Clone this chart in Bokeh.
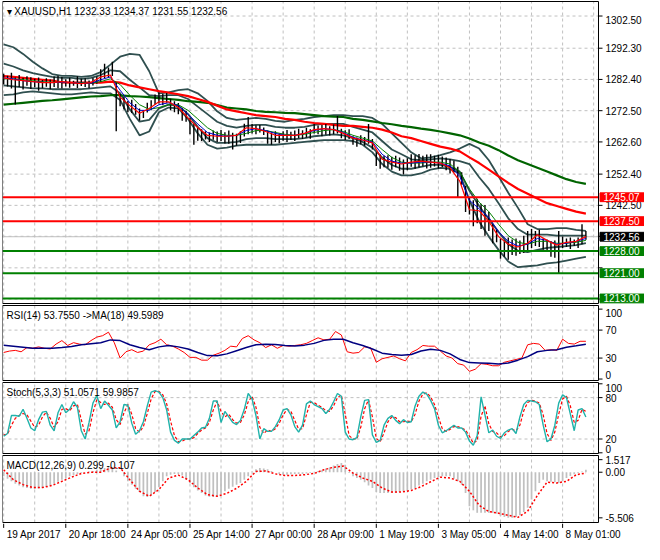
import numpy as np
from bokeh.plotting import figure
from bokeh.layouts import column
from bokeh.models import Range1d
from bokeh.core.properties import value
from bokeh.embed import file_html
from bokeh.resources import INLINE

# ---------------- data (XAUUSD H1) ----------------
# price bars, one entry every 2 bars
bar_hi = [1284.2, 1283.6, 1284.5, 1283.0, 1283.8, 1282.9, 1283.4,
          1283.1, 1282.6, 1283.0, 1282.2, 1282.8, 1282.4, 1283.3, 1283.6,
          1283.2, 1282.5, 1282.9, 1282.0, 1283.4, 1282.6, 1282.8, 1282.1, 1282.9, 1283.3,
          1285.6, 1287.4, 1286.2, 1288.0,
          1281.5,
          1277.8, 1277.0,
          1275.6, 1276.0, 1274.6,
          1273.2, 1272.6,
          1275.0, 1275.8,
          1277.6, 1278.3, 1277.9, 1278.1,
          1276.3, 1275.5, 1274.9,
          1273.3, 1272.5,
          1270.2, 1268.4, 1267.0,
          1266.6, 1266.0, 1265.6, 1266.2,
          1265.9, 1266.4, 1265.7,
          1266.2, 1265.5, 1265.2, 1266.0,
          1268.4, 1270.5,
          1268.3, 1267.9, 1268.0, 1267.2,
          1266.2, 1265.6, 1266.0, 1265.3,
          1266.0, 1266.4, 1265.8, 1266.2,
          1266.8, 1266.3, 1267.1, 1266.6,
          1268.3, 1267.8,
          1268.0, 1268.3, 1267.6, 1268.1, 1270.8,
          1266.8, 1266.3, 1266.6,
          1264.4, 1264.0, 1264.7, 1264.2,
          1268.3, 1263.5,
          1259.3, 1258.6, 1258.2,
          1258.4, 1257.9, 1258.2,
          1257.7, 1257.0, 1257.4,
          1258.7, 1258.4, 1258.8, 1258.2, 1258.6,
          1258.7, 1258.2, 1258.5, 1258.0,
          1257.7, 1257.2, 1256.6,
          1254.7, 1253.0,
          1248.7, 1245.0,
          1244.1, 1244.6, 1243.0,
          1242.6, 1240.5,
          1236.5, 1234.8,
          1232.0, 1231.4, 1232.3, 1231.7,
          1232.0, 1231.4, 1232.9, 1234.4,
          1235.0, 1234.4, 1234.8,
          1232.0, 1231.7,
          1231.1, 1231.4, 1234.4,
          1232.6, 1232.0, 1232.3, 1231.7, 1232.3,
          1236.5, 1234.4]
bar_lo = [1280.8, 1280.2, 1279.5, 1274.5, 1280.0, 1279.2, 1280.4,
          1279.4, 1279.9, 1278.8, 1279.6, 1280.1, 1279.3, 1280.0, 1279.6,
          1279.5, 1280.2, 1279.8, 1280.4, 1279.7, 1280.3, 1280.0, 1279.6, 1280.5, 1281.0,
          1281.6, 1282.8, 1283.0, 1283.5,
          1266.0,
          1273.9, 1272.9,
          1272.0, 1271.8, 1271.2,
          1269.3, 1270.2,
          1271.9, 1272.6,
          1274.4, 1274.8, 1274.2, 1275.0,
          1272.6, 1272.0, 1271.4,
          1269.3, 1269.0,
          1265.0, 1261.7, 1263.0,
          1262.9, 1263.4, 1262.6, 1263.3,
          1262.6, 1262.9, 1262.1,
          1262.0, 1260.2, 1261.4, 1262.3,
          1264.3, 1265.0,
          1265.3, 1265.0, 1265.6, 1264.8,
          1262.0, 1261.7, 1262.6, 1262.2,
          1263.0, 1262.6, 1263.2, 1262.9,
          1263.8, 1263.5, 1264.0, 1263.6,
          1265.3, 1265.0,
          1264.4, 1264.9, 1264.6, 1265.0, 1265.3,
          1263.8, 1263.2, 1263.5,
          1261.7, 1261.1, 1261.9, 1261.4,
          1262.0, 1260.2,
          1255.0, 1254.1, 1254.6,
          1254.4, 1253.8, 1254.6,
          1253.5, 1252.3, 1253.6,
          1254.7, 1254.1, 1254.5, 1254.8, 1254.2,
          1254.4, 1254.8, 1254.2, 1254.6,
          1253.6, 1252.6, 1252.9,
          1245.0, 1249.0,
          1240.4, 1239.6,
          1235.9, 1236.8, 1235.0,
          1232.9, 1234.4,
          1230.5, 1230.8,
          1225.6, 1226.2, 1225.3, 1226.8,
          1226.5, 1227.1, 1227.4, 1228.0,
          1229.0, 1229.6, 1229.3,
          1228.4, 1227.8,
          1226.2, 1225.9, 1221.1,
          1229.0, 1229.3, 1228.7, 1229.6, 1229.0,
          1230.2, 1231.6]

# indicator lines, one entry every 5 bars
ma_red = [1283.5, 1283.2, 1282.9, 1282.6, 1282.3, 1282.0, 1281.5, 1281.4, 1281.4, 1281.4,
          1281.4, 1281.7, 1281.4, 1280.5, 1279.9, 1279.3, 1278.7, 1278.2, 1277.7, 1277.1,
          1276.2, 1275.3, 1274.1, 1272.9, 1272.3, 1271.7, 1271.1, 1270.8, 1270.5, 1269.9,
          1269.6, 1269.0, 1268.6, 1268.3, 1268.0, 1267.7, 1267.7, 1267.4, 1267.1, 1266.5,
          1265.6, 1264.4, 1263.8, 1262.9, 1262.0, 1261.1, 1260.5, 1259.6, 1257.7, 1255.9,
          1253.8, 1251.7, 1249.6, 1247.7, 1246.2, 1244.7, 1243.2, 1242.3, 1241.4, 1240.5, 1239.9]
ma_green = [1274.4, 1274.7, 1275.0, 1275.3, 1275.6, 1275.8, 1276.1, 1276.4, 1276.7, 1277.0,
            1277.1, 1277.4, 1277.4, 1277.1, 1277.0, 1276.8, 1276.5, 1276.2, 1275.9, 1275.5,
            1275.3, 1275.0, 1274.3, 1273.5, 1273.2, 1272.9, 1272.4, 1272.1, 1272.0, 1271.8,
            1271.7, 1271.4, 1271.1, 1270.8, 1270.6, 1270.5, 1269.9, 1269.6, 1269.1, 1268.6,
            1268.2, 1267.7, 1267.3, 1266.8, 1266.4, 1265.9, 1265.3, 1264.7, 1263.7, 1262.4,
            1261.4, 1260.0, 1258.3, 1256.8, 1255.6, 1254.4, 1253.2, 1252.0, 1250.8, 1249.9, 1249.3]
fast_red = [1282.9, 1282.3, 1282.0, 1281.7, 1281.4, 1281.4, 1281.7, 1281.4, 1281.1, 1281.4,
            1283.2, 1283.8, 1276.8, 1274.1, 1271.7, 1273.2, 1275.3, 1275.3, 1273.5, 1270.2,
            1267.1, 1264.7, 1264.4, 1264.4, 1264.7, 1267.1, 1266.8, 1265.9, 1264.7, 1264.7,
            1264.7, 1265.3, 1266.5, 1266.8, 1266.5, 1265.3, 1263.8, 1263.2, 1262.3, 1257.1,
            1256.2, 1255.6, 1256.2, 1256.5, 1256.2, 1255.9, 1254.4, 1250.2, 1241.1, 1240.8,
            1237.4, 1232.6, 1230.2, 1229.3, 1230.5, 1233.2, 1231.4, 1229.9, 1230.8, 1231.1, 1232.6]
fast_blue = [1282.9, 1282.6, 1282.0, 1281.7, 1281.5, 1281.4, 1281.5, 1281.4, 1281.2, 1281.2,
             1282.3, 1283.2, 1279.0, 1275.0, 1272.6, 1272.6, 1274.4, 1275.0, 1274.1, 1271.4,
             1268.3, 1265.6, 1264.7, 1264.4, 1264.7, 1266.2, 1266.8, 1266.2, 1265.3, 1264.7,
             1264.7, 1265.3, 1266.2, 1266.8, 1266.5, 1265.6, 1264.1, 1263.2, 1262.6, 1258.7,
             1256.5, 1255.9, 1255.9, 1256.2, 1256.2, 1255.9, 1255.0, 1251.7, 1244.1, 1241.4,
             1238.7, 1234.1, 1231.1, 1229.6, 1230.2, 1232.0, 1231.4, 1230.2, 1230.5, 1231.1, 1232.0]
fast_green = [1282.6, 1282.6, 1282.3, 1282.0, 1281.7, 1281.5, 1281.5, 1281.4, 1281.4, 1281.2,
              1281.7, 1282.6, 1280.8, 1277.4, 1274.4, 1272.9, 1273.5, 1274.4, 1274.4, 1272.6,
              1269.9, 1267.1, 1265.3, 1264.7, 1264.7, 1265.3, 1266.2, 1266.2, 1265.6, 1265.0,
              1264.7, 1265.0, 1265.6, 1266.2, 1266.5, 1265.9, 1264.7, 1263.8, 1262.9, 1260.2,
              1257.7, 1256.2, 1255.9, 1255.9, 1256.2, 1256.2, 1255.6, 1253.2, 1247.7, 1243.5,
              1240.5, 1236.5, 1232.9, 1230.8, 1230.2, 1231.1, 1231.1, 1230.5, 1230.5, 1230.8, 1231.4]
bb_outer_up = [1293.5, 1292.6, 1290.5, 1288.0, 1285.9, 1284.1, 1283.5, 1283.5, 1283.2, 1283.5,
               1284.7, 1287.1, 1289.6, 1290.5, 1290.2, 1285.0, 1278.0, 1278.3, 1279.0, 1279.3,
               1278.0, 1275.6, 1272.3, 1270.2, 1269.6, 1269.9, 1270.2, 1269.9, 1269.3, 1269.0,
               1269.6, 1269.9, 1270.5, 1270.8, 1271.1, 1271.1, 1270.8, 1270.8, 1270.2, 1268.3,
               1265.3, 1262.3, 1259.3, 1257.4, 1257.7, 1258.4, 1259.3, 1260.5, 1262.0, 1260.5,
               1256.8, 1251.7, 1246.5, 1241.7, 1236.5, 1235.0, 1235.0, 1235.3, 1235.3, 1234.7, 1234.4]
bb_inner_up = [1287.4, 1286.5, 1285.3, 1284.4, 1283.8, 1283.2, 1282.9, 1282.9, 1282.6, 1282.9,
               1283.8, 1285.3, 1285.0, 1282.3, 1279.9, 1277.4, 1277.1, 1277.4, 1277.4, 1276.2,
               1273.8, 1271.4, 1269.0, 1267.7, 1267.1, 1267.7, 1268.0, 1268.0, 1267.4, 1267.1,
               1267.1, 1267.4, 1268.0, 1268.3, 1268.3, 1268.3, 1267.4, 1266.5, 1265.6, 1262.9,
               1260.2, 1258.7, 1257.1, 1256.8, 1257.1, 1257.4, 1257.1, 1256.5, 1255.6, 1251.4,
               1247.7, 1243.2, 1238.4, 1235.0, 1233.2, 1233.2, 1233.2, 1232.9, 1232.9, 1232.9, 1232.9]
bb_inner_lo = [1280.5, 1280.2, 1279.9, 1279.6, 1279.6, 1279.3, 1279.3, 1279.3, 1279.3, 1279.6,
               1279.9, 1280.2, 1278.0, 1272.9, 1269.0, 1269.6, 1273.2, 1274.4, 1274.1, 1271.4,
               1267.4, 1263.8, 1262.3, 1262.3, 1262.6, 1263.5, 1263.8, 1263.8, 1263.5, 1263.5,
               1263.5, 1263.8, 1264.4, 1264.7, 1265.0, 1264.7, 1263.8, 1262.6, 1260.8, 1257.7,
               1255.3, 1254.1, 1254.1, 1254.7, 1255.3, 1255.3, 1254.7, 1253.2, 1247.1, 1242.3,
               1238.1, 1234.1, 1230.2, 1228.1, 1227.7, 1228.4, 1229.0, 1229.3, 1229.6, 1229.9, 1230.5]
bb_outer_lo = [1277.4, 1277.7, 1278.3, 1278.6, 1278.3, 1278.0, 1277.7, 1277.7, 1278.0, 1278.3,
               1278.0, 1278.0, 1275.9, 1269.9, 1264.7, 1265.9, 1272.0, 1273.5, 1273.2, 1269.9,
               1265.3, 1261.7, 1260.5, 1260.8, 1261.4, 1261.7, 1261.7, 1261.7, 1261.7, 1262.0,
               1262.3, 1262.6, 1262.9, 1263.2, 1263.2, 1263.2, 1262.9, 1261.7, 1259.3, 1255.6,
               1253.2, 1252.0, 1252.0, 1252.6, 1253.8, 1254.4, 1254.1, 1252.6, 1244.1, 1237.4,
               1232.6, 1228.4, 1224.7, 1222.9, 1223.2, 1223.5, 1224.1, 1224.4, 1225.0, 1225.6, 1226.2]

levels = [1245.07, 1237.50, 1228.00, 1221.00, 1213.00]
level_colors = ["#FF0000", "#FF0000", "#008000", "#008000", "#008000"]
last_close = 1232.56
price_ticks = [1302.5, 1292.3, 1282.4, 1272.5, 1262.6, 1252.4, 1242.5, 1232.7, 1222.7, 1212.8]
price_labels = ["1302.50", "1292.30", "1282.40", "1272.50", "1262.60", "1252.40", "1242.50"]

# RSI(14), one entry every 3 bars; its MA(18) every 5 bars
rsi = [38, 40, 41, 39, 45, 44, 46, 44, 43, 50, 55, 48, 52, 50, 49, 55, 60, 62, 67, 52,
       30, 39, 42, 38, 40, 49, 52, 57, 49, 47, 43, 38, 31, 31, 27, 27, 34, 37, 41, 47,
       46, 58, 62, 56, 52, 45, 49, 44, 48, 47, 48, 49, 51, 55, 59, 56, 57, 68, 63, 39,
       37, 38, 46, 45, 24, 29, 31, 33, 29, 26, 38, 42, 48, 47, 47, 40, 33, 30, 22, 20,
       11, 14, 22, 21, 19, 19, 24, 26, 28, 30, 49, 51, 50, 41, 42, 41, 57, 51, 50, 54, 54]
rsi_ma = [48.5, 47, 45.5, 44, 44, 44, 45, 46.5, 49, 50.5, 52, 56, 55, 49, 45, 42, 46, 48, 46, 43,
          38, 33.5, 33.2, 36, 40.5, 45, 49, 49.7, 49.5, 48, 47.3, 48.5, 51, 55.3, 57, 57, 52, 48, 43, 37,
          35.2, 34.2, 35, 40, 42.6, 41, 36, 28, 23.5, 23, 22.5, 21.5, 23, 27, 32, 39, 41, 42, 45.5, 47.5, 49.6]

# Stochastic(5,3,3), one entry every 2 bars
stoch_main = [24, 28, 54, 54, 53, 63, 50, 36, 32, 48, 59, 60, 40, 32, 58, 70, 58, 63, 74, 66,
              32, 20, 44, 72, 83, 64, 75, 69, 62, 36, 45, 70, 69, 43, 27, 32, 45, 68, 88, 90,
              88, 80, 62, 30, 18, 14, 20, 20, 20, 25, 30, 36, 37, 50, 75, 75, 44, 60, 52, 44,
              41, 47, 63, 86, 78, 54, 20, 35, 31, 31, 38, 48, 62, 64, 55, 38, 30, 40, 71, 75,
              70, 67, 64, 57, 63, 74, 86, 82, 30, 20, 19, 22, 52, 76, 77, 26, 15, 18, 40, 50,
              54, 47, 42, 48, 44, 45, 68, 82, 88, 85, 76, 64, 40, 29, 32, 36, 40, 36, 36, 30,
              17, 11, 25, 81, 55, 29, 33, 24, 21, 29, 33, 35, 28, 52, 70, 76, 75, 74, 70, 40,
              16, 20, 40, 72, 84, 80, 56, 32, 62, 64, 52]
stoch_signal = [26, 27, 40, 50, 54, 57, 55, 46, 37, 40, 52, 59, 50, 37, 45, 63, 64, 61, 68, 70,
                48, 27, 32, 58, 77, 73, 70, 72, 66, 48, 41, 58, 70, 56, 35, 30, 38, 57, 78, 89,
                89, 84, 71, 46, 25, 16, 17, 20, 20, 22, 28, 33, 36, 44, 62, 75, 60, 52, 56, 48,
                43, 44, 55, 74, 82, 66, 37, 28, 33, 31, 35, 43, 55, 63, 60, 47, 34, 35, 55, 73,
                73, 69, 66, 61, 60, 68, 80, 84, 56, 25, 20, 20, 37, 64, 77, 52, 21, 16, 29, 45,
                52, 51, 45, 45, 46, 45, 56, 75, 85, 87, 81, 70, 52, 35, 31, 34, 38, 38, 36, 33,
                24, 14, 18, 53, 68, 42, 31, 29, 23, 25, 31, 34, 32, 40, 61, 73, 76, 75, 72, 55,
                28, 18, 30, 56, 78, 82, 68, 44, 47, 63, 60]

# MACD(12,26,9): histogram every 2 bars, signal every 5 bars
macd_hist = [-0.5, -0.8, -1.1, -1.4, -1.6, -1.8, -1.9, -2.0, -2.0, -1.95,
             -1.9, -1.75, -1.6, -1.4, -1.15, -0.9, -0.7, -0.5, -0.35, -0.2,
             -0.1, 0.0, 0.1, 0.15, 0.3, 0.4, 0.5, 0.65, 0.6, 0.2,
             0.0, -0.5, -1.1, -1.5, -2.0, -2.4, -2.9, -3.0, -2.8, -2.4,
             -1.8, -1.1, -0.5, -0.3, -0.2, -0.25, -0.4, -0.9, -1.3, -1.8,
             -2.2, -2.5, -2.8, -2.95, -3.0, -2.9, -2.7, -2.3, -2.0, -1.75,
             -1.5, -1.3, -0.9, -0.5, 0.1, 0.35, 0.5, 0.45, 0.35, 0.15,
             0.0, -0.2, -0.3, -0.3, -0.25, -0.2, -0.2, -0.2, -0.15, -0.1,
             0.0, 0.15, 0.25, 0.45, 0.6, 0.8, 1.0, 1.1, 0.9, -0.1,
             -0.5, -0.7, -0.9, -1.2, -1.6, -1.9, -2.4, -2.5, -2.5, -2.5,
             -2.5, -2.5, -2.4, -2.3, -2.2, -2.05, -1.9, -1.6, -1.4, -1.1,
             -0.9, -0.7, -0.6, -0.5, -0.5, -0.5, -0.8, -1.1, -1.5, -2.5,
             -4.1, -4.6, -4.9, -4.9, -4.9, -4.9, -4.9, -5.0, -5.3, -5.4,
             -5.5, -5.5, -5.4, -5.2, -4.8, -4.3, -3.3, -2.3, -1.3, -0.9,
             -1.1, -1.15, -1.2, -1.3, -1.1, -0.7, -0.45, -0.25, -0.1, 0.1, 0.3]
macd_signal = [0.3, -0.9, -1.5, -1.85, -1.85, -1.6, -1.1, -0.6, -0.15, 0.0,
               0.0, 0.5, 0.55, -0.9, -2.3, -2.9, -2.1, -0.7, -0.35, -0.9,
               -1.9, -2.7, -2.9, -2.55, -1.95, -1.1, 0.1, 0.15, -0.2, -0.4,
               -0.4, -0.3, -0.15, 0.3, 0.6, 0.75, -0.1, -0.7, -1.1, -1.9,
               -2.4, -2.4, -2.2, -1.75, -1.15, -0.6, -0.7, -1.1, -2.3, -4.0,
               -4.75, -4.95, -5.2, -5.45, -4.7, -2.8, -1.2, -1.3, -1.1, -0.3, -0.1]

date_labels = ["19 Apr 2017", "20 Apr 18:00", "24 Apr 05:00", "25 Apr 14:00", "27 Apr 00:00",
               "28 Apr 09:00", "1 May 19:00", "3 May 05:00", "4 May 14:00", "8 May 01:00"]
date_bars = [0, 32, 64, 96, 128, 160, 192, 224, 256, 288]
grid_bars = list(range(0, 305, 16))

hdr_main = "\u25BE XAUUSD,H1  1232.33 1234.37 1231.55 1232.56"
hdr_rsi = "RSI(14) 53.7550  ->MA(18) 49.5989"
hdr_sto = "Stoch(5,3,3) 51.0571 59.9857"
hdr_macd = "MACD(12,26,9) 0.299 -0.107"

# ---------------- positions ----------------
xb2 = np.arange(len(bar_hi)) * 2
xm = np.arange(len(macd_hist)) * 2
xs = np.arange(len(stoch_main)) * 2
x5 = np.arange(len(ma_red)) * 5
xr3 = np.arange(len(rsi)) * 3

FONT = "Liberation Sans"
FS = "10px"
W = 644
LB = 2
PW = 596                      # pixel width of the chart area (axis column to its right)
X0, X1 = -0.6, 306.5
UPX = (X1 - X0) / PW          # bar units per pixel
XE = X0 + (X1 - X0) * (W - LB) / PW
xr = Range1d(X0, XE)
GRID = "#C0C0C0"


def panel(h, lo, hi, grid_y):
    u = (hi - lo) / (h - 2)
    p = figure(width=W, height=h, x_range=xr, y_range=Range1d(lo - u, hi + u),
               output_backend="svg", toolbar_location=None,
               x_axis_location=None, y_axis_location=None,
               min_border_left=LB, min_border_right=0, min_border_top=0, min_border_bottom=0)
    p.grid.visible = False
    p.outline_line_color = None
    n = len(grid_bars)
    p.segment(x0=grid_bars, x1=grid_bars, y0=[lo] * n, y1=[hi] * n,
              line_color=GRID, line_dash="3 3", line_width=1)
    if grid_y:
        m = len(grid_y)
        p.segment(x0=[X0] * m, x1=[X1] * m, y0=grid_y, y1=grid_y,
                  line_color=GRID, line_dash="3 3", line_width=1)
    return p


def finish(p, lo, hi, ticks, labels, header_text):
    p.quad(left=[X0], right=[X1], bottom=[lo], top=[hi], fill_color=None,
           line_color="black", line_width=1)
    k = len(ticks)
    p.segment(x0=[X1] * k, x1=[X1 + 4 * UPX] * k, y0=ticks, y1=ticks, line_color="black")
    groups = {}
    for t, lab in zip(ticks, labels):
        if not lab:
            continue
        if t == max(ticks) and hi - t < (hi - lo) * 0.06:
            b = "top"
        elif t == min(ticks) and t - lo < (hi - lo) * 0.06:
            b = "bottom"
        else:
            b = "middle"
        groups.setdefault(b, ([], []))
        groups[b][0].append(t)
        groups[b][1].append(lab)
    for b, (ys, labs) in groups.items():
        p.text(x=[X1] * len(ys), y=ys, text=labs, text_font=value(FONT), text_font_size=FS,
               text_color="black", text_align="left", text_baseline=b, x_offset=7)
    p.text(x=[X0], y=[hi], text=[header_text], text_font=value(FONT), text_font_size=FS,
           text_color="black", text_align="left", text_baseline="top", x_offset=4, y_offset=4)


# ---------------- main price panel ----------------
MLO, MHI = 1211.4, 1307.1
H1 = 304
p1 = panel(H1, MLO, MHI, price_ticks)
p1.segment(x0=[X0], x1=[X1], y0=[last_close], y1=[last_close], line_color="#C0C0C0", line_width=1)
BB = "#2F4F4F"
for arr in (bb_outer_up, bb_outer_lo, bb_inner_up, bb_inner_lo):
    p1.line(x5, arr, line_color=BB, line_width=1.8)
p1.line(x5, ma_green, line_color="#006400", line_width=2.2)
p1.line(x5, ma_red, line_color="#FF0000", line_width=2.2)
p1.segment(x0=xb2, y0=bar_lo, x1=xb2, y1=bar_hi, line_color="black", line_width=1.4)
p1.line(x5, fast_green, line_color="#008000", line_width=1)
p1.line(x5, fast_blue, line_color="#0000CD", line_width=1)
p1.line(x5, fast_red, line_color="#FF0000", line_width=1.2)
nl = len(levels)
p1.segment(x0=[X0] * nl, x1=[X1] * nl, y0=levels, y1=levels, line_color=level_colors, line_width=2)
finish(p1, MLO, MHI, price_ticks, price_labels + [""] * (len(price_ticks) - len(price_labels)), hdr_main)

# price tags in the axis column
uy = (MHI - MLO) / (H1 - 2)
tag_vals = levels + [last_close]
tag_cols = level_colors + ["#000000"]
p1.quad(left=[X1 + 1.5 * UPX] * len(tag_vals), right=[X1 + 46 * UPX] * len(tag_vals),
        bottom=[v - 4.4 * uy for v in tag_vals], top=[v + 4.4 * uy for v in tag_vals],
        fill_color=tag_cols, line_color=tag_cols)
p1.text(x=[X1] * len(tag_vals), y=tag_vals, text=[f"{v:.2f}" for v in tag_vals],
        text_font=value(FONT), text_font_size=FS, text_color="white", text_align="left",
        text_baseline="middle", x_offset=5)

# ---------------- RSI ----------------
RLO, RHI = -2.1, 105.2
p2 = panel(77, RLO, RHI, [30, 70])
p2.line(xr3, rsi, line_color="#FF0000", line_width=1)
p2.line(x5, rsi_ma, line_color="#000080", line_width=1.5)
finish(p2, RLO, RHI, [100, 70, 30, 0], ["100", "70", "30", "0"], hdr_rsi)

# ---------------- Stochastic ----------------
SLO, SHI = -1.0, 101.9
p3 = panel(73, SLO, SHI, [20, 80])
p3.line(xs, stoch_signal, line_color="#FF0000", line_width=1.2, line_dash="3 2")
p3.line(xs, stoch_main, line_color="#20B2AA", line_width=1.4)
finish(p3, SLO, SHI, [100, 80, 20, 0], ["100", "80", "20", "0"], hdr_sto)

# ---------------- MACD ----------------
DLO, DHI = -6.07, 2.02
p4 = panel(69, DLO, DHI, [])
p4.vbar(x=xm, top=macd_hist, bottom=0, width=0.9, fill_color="#C0C0C0", line_color=None)
p4.line(x5, macd_signal, line_color="#FF0000", line_width=1.5, line_dash="2 2")
finish(p4, DLO, DHI, [1.517, 0.0, -5.506], ["1.517", "0.00", "-5.506"], hdr_macd)

# ---------------- time labels ----------------
pl = figure(width=W, height=20, x_range=xr, y_range=Range1d(0, 1),
            output_backend="svg", toolbar_location=None,
            x_axis_location=None, y_axis_location=None,
            min_border_left=LB, min_border_right=0, min_border_top=0, min_border_bottom=0)
pl.grid.visible = False
pl.outline_line_color = None
nd = len(date_bars)
pl.segment(x0=date_bars, x1=date_bars, y0=[1.0] * nd, y1=[0.78] * nd, line_color="black")
pl.text(x=date_bars, y=[0.45] * nd, text=date_labels, text_font=value(FONT),
        text_font_size=FS, text_color="black", text_align="left", text_baseline="middle",
        x_offset=3)

layout = column(p1, p2, p3, p4, pl, spacing=0)
open("out.html", "w").write(file_html(layout, INLINE))
